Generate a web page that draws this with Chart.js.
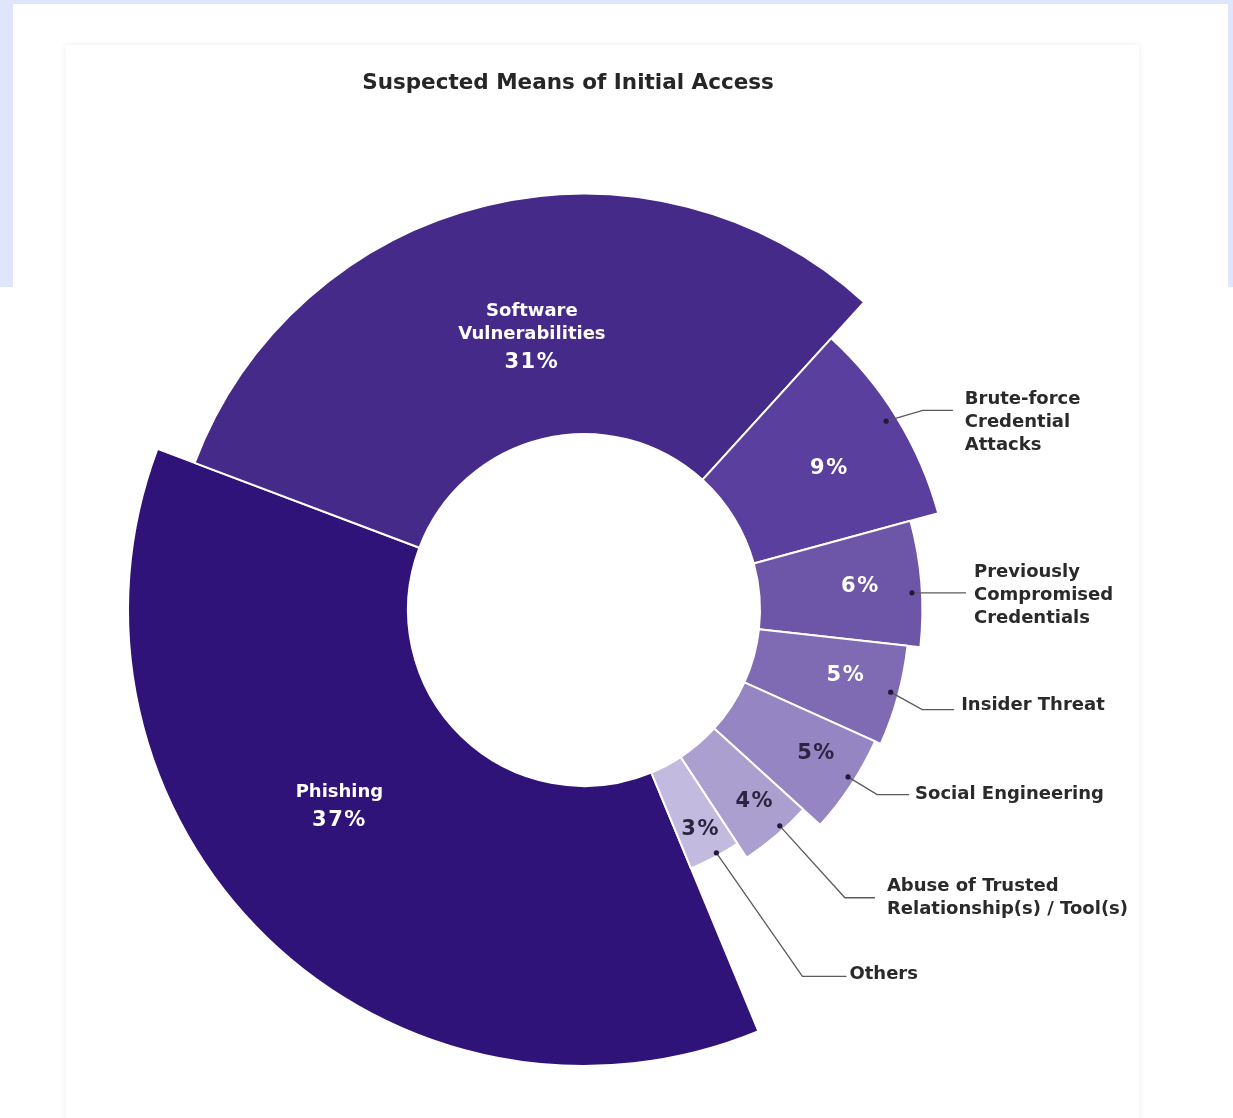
<!DOCTYPE html>
<html>
<head>
<meta charset="utf-8">
<script src="https://cdn.jsdelivr.net/npm/chart.js@4.4.1/dist/chart.umd.min.js"></script>
<style>
  html, body { margin: 0; padding: 0; background: #ffffff; }
  #frame { position: absolute; left: 0; top: 0; width: 1233px; height: 287px; background: #dfe5fb; }
  #frameInner { position: absolute; left: 13px; top: 4px; width: 1215px; height: 283px; background: #ffffff; }
  #card { position: absolute; left: 66px; top: 45px; width: 1073px; height: 1100px; background: #ffffff;
          box-shadow: 0 0 7px rgba(0,0,0,0.07); }
  #wrap { position: absolute; left: 0; top: 0; width: 1233px; height: 1118px; }
</style>
</head>
<body>
<div id="frame"><div id="frameInner"></div></div>
<div id="card"></div>
<div id="wrap"><canvas id="myChart" width="1233" height="1118"></canvas></div>
<script>
let chartTitle = 'Suspected Means of Initial Access';

let categories = [
    'Phishing',
    'Software Vulnerabilities',
    'Brute-force Credential Attacks',
    'Previously Compromised Credentials',
    'Insider Threat',
    'Social Engineering',
    'Abuse of Trusted Relationship(s) / Tool(s)',
    'Others'
];
let shares = [37, 31, 9, 6, 5, 5, 4, 3];

// how each name is broken onto lines
let nameLines = [
    ['Phishing'],
    ['Software', 'Vulnerabilities'],
    ['Brute-force', 'Credential', 'Attacks'],
    ['Previously', 'Compromised', 'Credentials'],
    ['Insider Threat'],
    ['Social Engineering'],
    ['Abuse of Trusted', 'Relationship(s) / Tool(s)'],
    ['Others']
];

// styling
let colorset = ['#2f1378', '#452a8a', '#5a3f9e', '#6d56a7', '#7f6bb4', '#9585c3', '#aa9fce', '#c3badf'];
let reach = [1, 0.858, 0.683, 0.58, 0.534, 0.512, 0.43, 0.37];   // ring depth share of the biggest slice
let insideName = [true, true, false, false, false, false, false, false];
let labelDepth = [0.486, 0.436, 0.557, 0.613, 0.613, 0.66, 0.645, 0.675];
let labelTurn = [7.5, 2.8, 1, -0.7, -1.5, -1.7, -1.2, 0.1];      // degrees off the slice middle
let darkText = [false, false, false, false, false, true, true, true];
let dotTurn = [0, 0, -0.5, 1.5, -0.3, -1, -1.7, -0.7];
let dotIn = [0, 0, 11, 10, 8, 7, 5, 3];
let elbowTurn = [0, 0, 1, 0, 1.1, -1.1, -1.7, -2.9];
let leaderExt = [0, 0, 26, 54, 27, 27, 92, 147];
let leaderRun = [0, 0, 30, 0, 32, 32, 30, 44];
let textGap = [0, 0, 12, 8, 7, 6, 12, 3];
let textDy = [0, 0, 12, 3, -4, 0, 0, -2];

let FONT = '"DejaVu Sans", sans-serif';
let RAD = Math.PI / 180;

function pt(el, ang, r) {
    return { x: el.x + Math.cos(ang) * r, y: el.y + Math.sin(ang) * r };
}

let shapePlugin = {
    id: 'shape',
    afterDatasetsUpdate(chart) {
        let meta = chart.getDatasetMeta(0);
        meta.data.forEach((el, i) => {
            el.outerRadius = el.innerRadius + (el.outerRadius - el.innerRadius) * reach[i];
        });
    }
};

let labelPlugin = {
    id: 'labels',
    afterDatasetsDraw(chart) {
        let ctx = chart.ctx;
        let meta = chart.getDatasetMeta(0);
        ctx.save();

        // title
        ctx.fillStyle = '#262626';
        ctx.font = 'bold 21.5px ' + FONT;
        ctx.textAlign = 'center';
        ctx.textBaseline = 'middle';
        ctx.fillText(chartTitle, 568, 83);

        meta.data.forEach((el, i) => {
            let mid = (el.startAngle + el.endAngle) / 2;
            let r = el.innerRadius + (el.outerRadius - el.innerRadius) * labelDepth[i];
            let c = pt(el, mid + labelTurn[i] * RAD, r);
            ctx.textAlign = 'center';
            ctx.textBaseline = 'middle';
            ctx.fillStyle = darkText[i] ? '#2b2540' : '#ffffff';
            if (insideName[i]) {
                let lines = nameLines[i].concat([shares[i] + '%']);
                let h = 23;
                let y0 = c.y - (lines.length - 1) * h / 2;
                lines.forEach((t, k) => {
                    let last = k === lines.length - 1;
                    ctx.font = (last ? 'bold 21px ' : 'bold 18px ') + FONT;
                    ctx.letterSpacing = last ? '1.5px' : '0px';
                    ctx.fillText(t, c.x, y0 + k * h + (last ? 5 : 0));
                });
                ctx.letterSpacing = '0px';
            } else {
                ctx.font = 'bold 21px ' + FONT;
                ctx.letterSpacing = '1.5px';
                ctx.fillText(shares[i] + '%', c.x + 2, c.y + 2);
                ctx.letterSpacing = '0px';

                // leader line
                let d = pt(el, mid + dotTurn[i] * RAD, el.outerRadius - dotIn[i]);
                let e = pt(el, mid + elbowTurn[i] * RAD, el.outerRadius + leaderExt[i]);
                if (leaderRun[i] === 0) e = { x: d.x + leaderExt[i], y: d.y };
                let end = { x: e.x + leaderRun[i], y: e.y };
                ctx.strokeStyle = '#5a5a5a';
                ctx.lineWidth = 1.3;
                ctx.beginPath();
                ctx.moveTo(d.x, d.y);
                ctx.lineTo(e.x, e.y);
                ctx.lineTo(end.x, end.y);
                ctx.stroke();
                ctx.fillStyle = '#24183f';
                ctx.beginPath();
                ctx.arc(d.x, d.y, 2.6, 0, Math.PI * 2);
                ctx.fill();

                ctx.fillStyle = '#2a2a2a';
                ctx.font = 'bold 18px ' + FONT;
                ctx.textAlign = 'left';
                let lines = nameLines[i];
                let h = 23;
                let y0 = end.y + textDy[i] - (lines.length - 1) * h / 2;
                lines.forEach((t, k) => ctx.fillText(t, end.x + textGap[i], y0 + k * h));
            }
        });
        ctx.restore();
    }
};

let ctx = document.getElementById('myChart').getContext('2d');

let myDoughnutChart = new Chart(ctx, {
    type: 'doughnut',
    data: {
        labels: categories,
        datasets: [{
            data: shares,
            backgroundColor: colorset,
            borderColor: '#ffffff',
            borderWidth: 2
        }]
    },
    options: {
        responsive: false,
        animation: false,
        rotation: 157.5,
        cutout: 176,
        layout: { padding: { left: 127, top: 153, right: 192, bottom: 51 } },
        plugins: {
            legend: { display: false },
            tooltip: { enabled: false },
            title: { display: false }
        }
    },
    plugins: [shapePlugin, labelPlugin]
});
</script>
</body>
</html>
